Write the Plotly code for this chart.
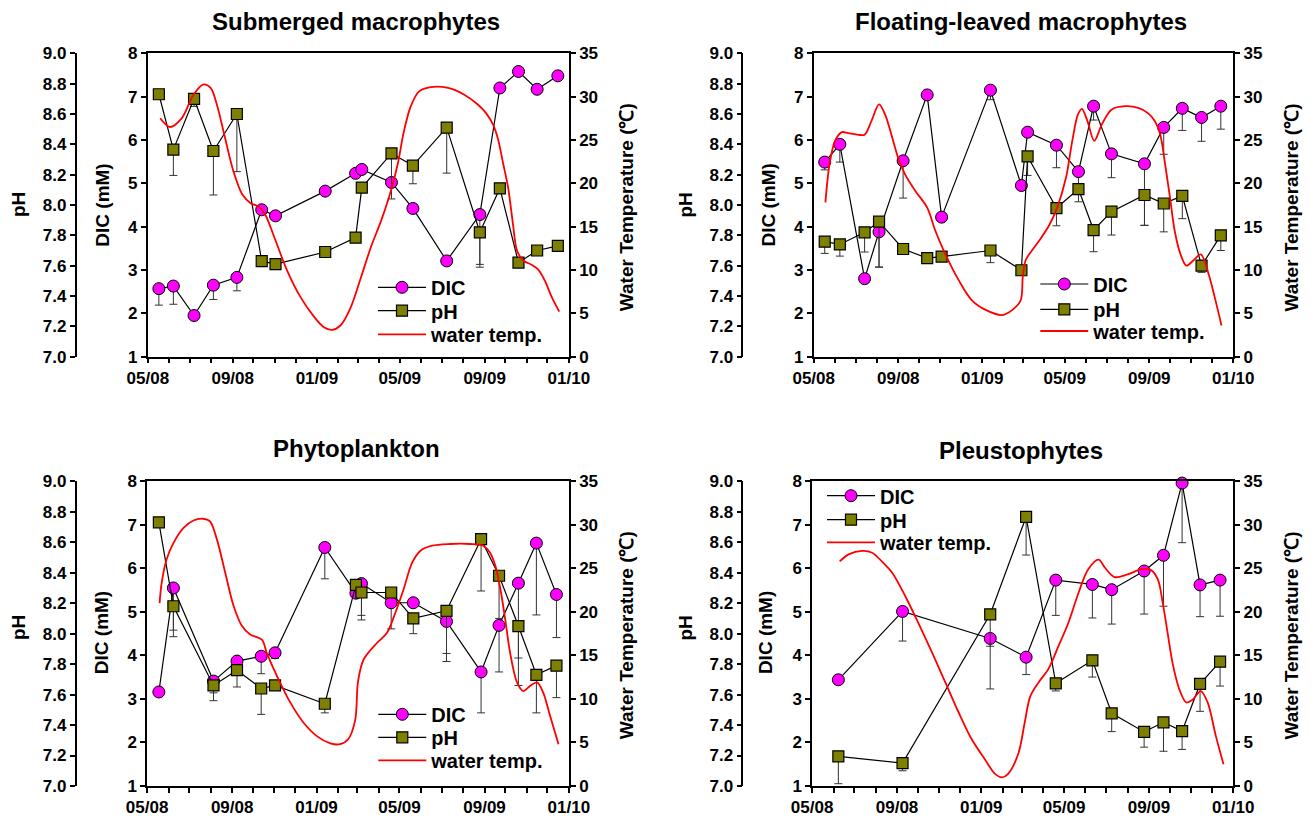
import pandas as pd
import plotly.graph_objects as go

START = pd.Timestamp("2008-05-01")
FONT = "Liberation Sans, Arial, Helvetica, sans-serif"

panel_titles = ["Submerged macrophytes", "Floating-leaved macrophytes",
                "Phytoplankton", "Pleustophytes"]

# ---------------- Submerged macrophytes ----------------
sub_days = [16, 37, 67, 95, 129, 165, 185, 257, 301, 310, 353, 384, 433, 481, 510, 537, 564, 594]
sub_dic = [2.57, 2.63, 1.95, 2.65, 2.83, 4.39, 4.25, 4.82, 5.23, 5.32, 5.02, 4.42, 3.21, 4.28, 7.20, 7.58, 7.17, 7.48]
sub_dic_err = [0.38, 0.42, 0, 0.33, 0.31, 0, 0, 0, 0, 0, 0, 0.08, 0, 1.15, 0, 0, 0, 0]
sub_ph = [8.73, 8.365, 8.70, 8.356, 8.60, 7.63, 7.61, 7.69, 7.785, 8.115, 8.34, 8.26, 8.51, 7.82, 8.11, 7.62, 7.70, 7.73]
sub_ph_err = [0, 0.17, 0.05, 0.29, 0.38, 0, 0, 0, 0, 0, 0.30, 0.12, 0.30, 0.23, 0, 0, 0, 0]
sub_t_days = [18, 32, 49, 66, 80, 91, 100, 112, 124, 137, 149, 161, 170, 185, 202, 221, 241, 255, 267, 279,
              294, 309, 323, 338, 352, 362, 371, 381, 393, 410, 435, 459, 478, 490, 500, 507, 515, 522, 529, 535,
              544, 556, 565, 575, 585, 596]
sub_temp = [27.5, 26.5, 27.5, 30.2, 31.4, 31.0, 29.1, 25.2, 21.4, 18.7, 17.7, 17.3, 16.4, 13.4, 9.9, 6.9, 4.6, 3.4, 3.1, 3.6,
            5.7, 9.2, 12.6, 15.7, 19.1, 22.2, 26.0, 28.9, 30.6, 31.1, 31.0, 30.2, 29.1, 28.1, 26.8, 25.2, 22.2, 19.5, 15.3, 12.2,
            11.1, 10.6, 10.1, 8.8, 6.9, 5.2]

# ---------------- Floating-leaved macrophytes ----------------
flo_days = [16, 38, 74, 95, 130, 165, 186, 257, 302, 311, 353, 385, 407, 433, 481, 509, 536, 564, 592]
flo_dic = [5.49, 5.90, 2.80, 3.88, 5.52, 7.04, 4.22, 7.15, 4.95, 6.18, 5.88, 5.27, 6.78, 5.68, 5.45, 6.29, 6.73, 6.52, 6.78]
flo_dic_err = [0.18, 0.41, 0.08, 0.81, 0.86, 0, 0, 0.22, 0, 0, 0.52, 0.48, 0.32, 0.55, 1.42, 0.62, 0.51, 0.55, 0.53]
flo_ph = [7.758, 7.74, 7.82, 7.89, 7.71, 7.65, 7.66, 7.70, 7.57, 8.32, 7.98, 8.105, 7.835, 7.956, 8.066, 8.01, 8.06, 7.60, 7.80]
flo_ph_err = [0.077, 0.077, 0.13, 0.30, 0.035, 0, 0, 0.08, 0.033, 0.125, 0.117, 0.084, 0.143, 0.154, 0.2, 0.187, 0.15, 0.044, 0.1]
flo_t_days = [17, 23, 31, 41, 50, 65, 74, 84, 95, 104, 113, 123, 133, 148, 165, 177, 191, 211, 230, 250,
              274, 289, 301, 304, 308, 315, 328, 342, 354, 367, 376, 384, 390, 398, 408, 419, 433, 453, 472, 486,
              496, 504, 511, 518, 525, 533, 542, 552, 563, 574, 583, 593]
flo_temp = [17.8, 22.2, 24.9, 25.9, 25.8, 25.6, 25.6, 27.2, 29.1, 27.9, 25.6, 22.9, 21.0, 19.1, 17.2, 14.5, 11.9, 8.8, 6.5, 5.4,
            4.8, 5.4, 6.5, 9.2, 11.1, 12.0, 13.4, 15.1, 17.2, 20.7, 24.9, 27.9, 28.6, 27.2, 24.9, 26.8, 28.5, 28.9, 28.7, 28.1,
            27.2, 25.6, 22.2, 18.4, 14.5, 11.9, 10.5, 11.1, 11.8, 9.6, 6.9, 3.6]

# ---------------- Phytoplankton ----------------
phy_days = [17, 38, 96, 130, 165, 185, 257, 302, 310, 353, 385, 433, 483, 509, 537, 563, 592]
phy_dic = [3.16, 5.55, 3.41, 3.87, 3.98, 4.06, 6.48, 5.43, 5.65, 5.21, 5.21, 4.78, 3.62, 4.69, 5.66, 6.58, 5.40]
phy_dic_err = [0, 0.97, 0.27, 0, 0.40, 0.13, 0.72, 0, 0.73, 0.60, 0, 0.92, 0.94, 1.07, 1.72, 1.65, 0.99]
phy_ph = [8.73, 8.18, 7.66, 7.76, 7.64, 7.66, 7.54, 8.32, 8.27, 8.27, 8.10, 8.15, 8.62, 8.38, 8.05, 7.73, 7.79]
phy_ph_err = [0, 0.20, 0.10, 0.11, 0.17, 0, 0.06, 0, 0.18, 0, 0.10, 0.28, 0.34, 0.28, 0.39, 0.25, 0.21]
phy_t_days = [18, 21, 28, 38, 52, 67, 81, 91, 101, 113, 125, 137, 149, 166, 173, 188, 207, 226, 246, 265,
              279, 291, 301, 305, 313, 332, 347, 359, 371, 383, 395, 412, 438, 467, 486, 496, 504, 511, 518,
              525, 535, 544, 554, 564, 573, 583, 595]
phy_temp = [21.0, 23.3, 26.0, 27.9, 29.6, 30.5, 30.7, 30.4, 28.3, 24.5, 20.7, 18.4, 17.4, 16.8, 15.3, 12.6, 9.6, 7.3, 5.7, 4.9,
            4.8, 5.4, 7.6, 12.0, 14.5, 16.4, 17.6, 19.9, 22.6, 25.6, 27.0, 27.6, 27.8, 27.8, 27.6, 26.8, 25.2, 22.6, 19.1,
            15.3, 11.9, 10.9, 11.5, 11.9, 10.7, 8.0, 4.8]

# ---------------- Pleustophytes ----------------
ple_days = [38, 131, 258, 310, 353, 406, 434, 481, 509, 536, 562, 591]
ple_dic = [3.44, 5.01, 4.39, 3.96, 5.73, 5.63, 5.51, 5.94, 6.30, 7.96, 5.62, 5.73]
ple_dic_err = [0, 0.68, 1.16, 0.40, 0.81, 0.77, 0.79, 0.99, 1.17, 1.37, 0.73, 0.83]
ple_ph = [7.195, 7.15, 8.127, 8.766, 7.674, 7.825, 7.477, 7.355, 7.418, 7.36, 7.67, 7.816]
ple_ph_err = [0.18, 0.05, 0.21, 0.25, 0.05, 0.11, 0.12, 0.10, 0.19, 0.12, 0.18, 0.16]
ple_t_days = [40, 53, 72, 87, 101, 116, 135, 154, 174, 193, 212, 231, 250, 265, 275, 284, 299, 308, 316, 328,
              342, 357, 371, 386, 400, 415, 424, 438, 457, 477, 491, 501, 508, 515, 522, 532, 542, 551, 563, 573,
              585, 596]
ple_temp = [25.8, 26.6, 27.0, 26.8, 25.8, 24.5, 21.8, 18.7, 15.3, 11.9, 8.5, 5.4, 3.1, 1.4, 1.0, 1.4, 3.8, 7.3, 10.3, 11.9,
            13.4, 16.1, 18.7, 22.2, 24.9, 26.0, 25.1, 24.0, 24.3, 24.9, 24.8, 23.7, 21.0, 17.6, 14.2, 11.1, 9.6, 9.9, 10.9, 9.6,
            5.7, 2.5]

series_names = ["DIC", "pH", "water temp."]

panels = [
    dict(days=sub_days, dic=sub_dic, dic_err=sub_dic_err, ph=sub_ph, ph_err=sub_ph_err, tdays=sub_t_days, temp=sub_temp),
    dict(days=flo_days, dic=flo_dic, dic_err=flo_dic_err, ph=flo_ph, ph_err=flo_ph_err, tdays=flo_t_days, temp=flo_temp),
    dict(days=phy_days, dic=phy_dic, dic_err=phy_dic_err, ph=phy_ph, ph_err=phy_ph_err, tdays=phy_t_days, temp=phy_temp),
    dict(days=ple_days, dic=ple_dic, dic_err=ple_dic_err, ph=ple_ph, ph_err=ple_ph_err, tdays=ple_t_days, temp=ple_temp),
]

# ---------------- layout geometry (pixels) ----------------
W, H = 1315, 821
boxes = [(147.7, 569.0, 53.3, 356.7), (813.6, 1233.3, 53.3, 356.7),
         (147.0, 569.0, 481.3, 786.0), (812.0, 1233.3, 481.3, 786.0)]
ph_axis_x = [75.5, 742.3, 75.5, 742.3]
title_pos = [(356, 21.7), (1021, 21.7), (356, 448.3), (1021, 450)]
ph_label_pos = [(18, 205), (684.5, 205), (18, 628), (684.5, 628)]
dic_label_pos = [(101.7, 205), (767.5, 205), (101.7, 632.5), (765.6, 632.5)]
temp_label_pos = [(626.7, 207.5), (1291, 207.5), (626.7, 635.5), (1291, 635.5)]
legend_pos = [(378, [287.3, 310.7, 334.3]), (1040.3, [284, 309.3, 331]),
              (378.3, [714.3, 737.3, 760.3]), (827, [495.7, 519.7, 542.3])]

LEG_FS = 20
LEG_ITEMW = 48


def fx(v):
    return v / W


def fy(v):
    return 1 - v / H


def dates(days):
    return START + pd.to_timedelta(days, unit="D")


tickfont = dict(family=FONT, size=17, color="black", weight="bold")
axis_common = dict(showline=True, linecolor="black", linewidth=1.5, ticks="outside", ticklen=5,
                   tickwidth=1.5, tickcolor="black", showgrid=False, zeroline=False, tickfont=tickfont,
                   automargin=False)

fig = go.Figure()
layout = {}
annotations = []

for k, p in enumerate(panels):
    xid = "x" if k == 0 else f"x{k + 1}"
    xname = "xaxis" if k == 0 else f"xaxis{k + 1}"
    n = 3 * k
    yd = "y" if n == 0 else f"y{n + 1}"
    ydname = "yaxis" if n == 0 else f"yaxis{n + 1}"
    yp, ypname = f"y{n + 2}", f"yaxis{n + 2}"
    yt, ytname = f"y{n + 3}", f"yaxis{n + 3}"
    legs = []
    for j in range(3):
        idx = 3 * k + j + 1
        legs.append("legend" if idx == 1 else f"legend{idx}")

    fig.add_trace(go.Scatter(
        x=dates(p["days"]), y=p["dic"], xaxis=xid, yaxis=yd, name=series_names[0],
        mode="lines+markers", cliponaxis=False, legend=legs[0],
        line=dict(color="black", width=1.2),
        marker=dict(symbol="circle", size=12, color="#FF00FF", line=dict(color="black", width=1)),
        error_y=dict(type="data", symmetric=False, array=[0] * len(p["dic_err"]), arrayminus=p["dic_err"],
                     color="#333333", thickness=1, width=4),
    ))
    fig.add_trace(go.Scatter(
        x=dates(p["days"]), y=p["ph"], xaxis=xid, yaxis=yp, name=series_names[1],
        mode="lines+markers", cliponaxis=False, legend=legs[1],
        line=dict(color="black", width=1.2),
        marker=dict(symbol="square", size=11, color="#808000", line=dict(color="black", width=1.2)),
        error_y=dict(type="data", symmetric=False, array=[0] * len(p["ph_err"]), arrayminus=p["ph_err"],
                     color="#333333", thickness=1, width=4),
    ))
    fig.add_trace(go.Scatter(
        x=dates(p["tdays"]), y=p["temp"], xaxis=xid, yaxis=yt, name=series_names[2],
        mode="lines", cliponaxis=False, legend=legs[2],
        line=dict(color="#FF0000", width=1.8, shape="spline", smoothing=0.9),
    ))

    x0, x1, ytop, ybot = boxes[k]
    layout[xname] = dict(axis_common, domain=[fx(x0), fx(x1)], anchor=yd, type="date",
                         range=["2008-04-30 20:00", "2010-01-01 04:00"],
                         tick0="2008-05-01", dtick="M4", tickformat="%m/%y", mirror=True,
                         minor=dict(tick0="2008-05-01", dtick="M1", ticks="outside", ticklen=5,
                                    tickwidth=1.5, tickcolor="black", showgrid=False))
    layout[ydname] = dict(axis_common, domain=[fy(ybot), fy(ytop)], anchor=xid,
                          range=[0.9999, 8.0001], tick0=1, dtick=1)
    layout[ypname] = dict(axis_common, overlaying=yd, anchor="free", position=fx(ph_axis_x[k]), side="left",
                          range=[6.99995, 9.00005], tick0=7, dtick=0.2, tickformat=".1f")
    layout[ytname] = dict(axis_common, overlaying=yd, anchor=xid, side="right",
                          range=[-0.0001, 35.0001], tick0=0, dtick=5)

    lx, lys = legend_pos[k]
    for j in range(3):
        layout[legs[j]] = dict(x=fx(lx - 5), y=fy(lys[j] - (5 + (1.3 * LEG_FS + 3) / 2)),
                               xanchor="left", yanchor="top", bgcolor="rgba(0,0,0,0)", borderwidth=0,
                               itemwidth=LEG_ITEMW,
                               font=dict(family=FONT, size=LEG_FS, color="black", weight="bold"))

    tx, ty = title_pos[k]
    annotations.append(dict(text=panel_titles[k], x=fx(tx), y=fy(ty), xref="paper", yref="paper",
                            xanchor="center", yanchor="middle", showarrow=False,
                            font=dict(family=FONT, size=24, color="black", weight="bold")))
    for (px, py), txt in [(ph_label_pos[k], "pH"), (dic_label_pos[k], "DIC (mM)"),
                          (temp_label_pos[k], "Water Temperature (\u2103)")]:
        annotations.append(dict(text=txt, x=fx(px), y=fy(py), xref="paper", yref="paper",
                                xanchor="center", yanchor="middle", showarrow=False, textangle=-90,
                                font=dict(family=FONT, size=19, color="black", weight="bold")))

fig.update_layout(**layout)
fig.update_layout(
    width=W, height=H, margin=dict(l=0, r=0, t=0, b=0, pad=0, autoexpand=False),
    paper_bgcolor="white", plot_bgcolor="white",
    font=dict(family=FONT, color="black", weight="bold"),
    annotations=annotations, hovermode=False, showlegend=True,
)

fig.write_html("out.html", config={"displayModeBar": False},
               post_script="document.body.style.margin='0px';document.body.style.padding='0px';")
